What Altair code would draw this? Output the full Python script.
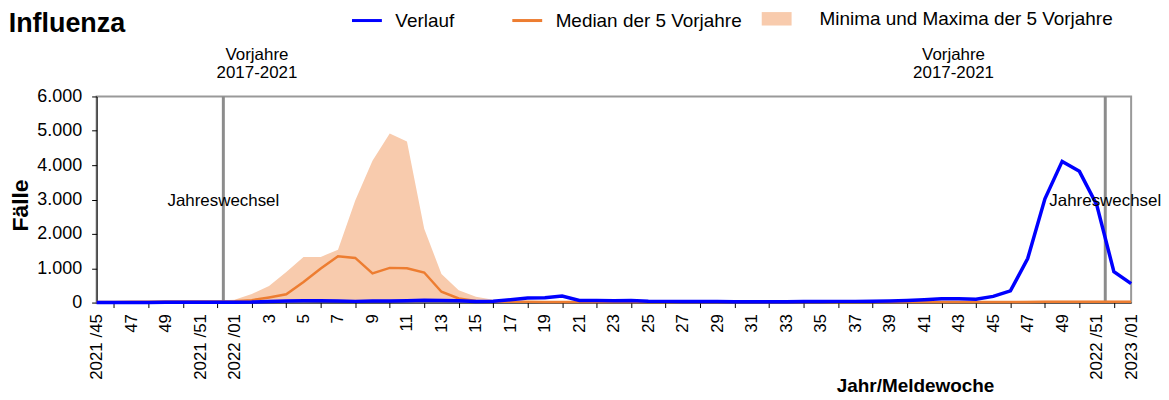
import altair as alt
import pandas as pd

FONT = "Liberation Sans"

# ---- data -------------------------------------------------------------
# 61 report weeks: 2021/45 ... 2021/52, 2022/01 ... 2022/52, 2023/01
week_index = list(range(61))
# labels shown on every second week (index 0, 2, 4, ...)
even_labels = ["2021 /45", "47", "49", "2021 /51", "2022 /01", "3", "5", "7", "9",
               "11", "13", "15", "17", "19", "21", "23", "25", "27", "29", "31",
               "33", "35", "37", "39", "41", "43", "45", "47", "49", "2022 /51",
               "2023 /01"]

verlauf = [3, 4, 5, 5, 6, 7, 8, 10,
           12, 15, 30, 45, 50, 55, 45, 35, 45, 45,
           50, 65, 60, 55, 30, 40, 80, 130, 140, 190,
           60, 60, 55, 60, 40, 35, 30, 30, 30, 25,
           25, 25, 25, 30, 30, 35, 35, 40, 45, 60,
           80, 110, 110, 100, 180, 340, 1280, 3020, 4110, 3820,
           2850, 900, 550]

median = [20, 20, 22, 25, 28, 30, 32, 30,
          40, 70, 150, 240, 600, 990, 1350, 1300, 850, 1010,
          1000, 875, 315, 120, 45, 30, 25, 22, 20, 20,
          18, 18, 16, 16, 15, 15, 14, 14, 14, 13,
          13, 13, 13, 13, 13, 14, 14, 14, 15, 15,
          15, 16, 16, 17, 18, 18, 20, 22, 24, 25,
          25, 24, 22]

maxima = [40, 40, 45, 50, 55, 60, 70, 60,
          80, 250, 480, 890, 1330, 1330, 1540, 2970, 4130, 4920,
          4690, 2150, 830, 360, 170, 80, 50, 45, 40, 40,
          38, 36, 35, 35, 34, 34, 33, 33, 33, 33,
          33, 33, 34, 34, 35, 35, 36, 36, 38, 40,
          40, 42, 42, 44, 46, 48, 50, 52, 54, 55,
          55, 52, 50]

minima = [2, 2, 2, 3, 3, 3, 4, 4,
          5, 6, 8, 10, 12, 14, 15, 15, 14, 13,
          12, 10, 8, 6, 5, 4, 3, 3, 2, 2,
          2, 2, 2, 2, 2, 2, 2, 2, 2, 2,
          2, 2, 2, 2, 2, 2, 2, 2, 2, 2,
          2, 2, 2, 2, 2, 2, 3, 3, 3, 3,
          3, 3, 3]

SER_V = "Verlauf"
SER_M = "Median der 5 Vorjahre"
SER_B = "Minima und Maxima der 5 Vorjahre"
line_names = [SER_V, SER_M]
line_colors = ["#0000FF", "#ED7D31"]
band_names = [SER_B]
band_colors = ["#F8CBAD"]

# annotations (positions in week-index / case units)
title_text = ["Influenza"]
title_at = [-5.1]
title_y = [7880]
jahreswechsel_at = [7.35, 58.5]
jahreswechsel_label = ["Jahreswechsel", "Jahreswechsel"]
jahreswechsel_text_y = [2950, 2950]
vorjahre_at = [9.3, 49.7]
vorjahre_label = ["Vorjahre\n2017-2021", "Vorjahre\n2017-2021"]
vorjahre_text_y = [7200, 7200]

# ---- tables -----------------------------------------------------------
df_band = pd.DataFrame({"i": week_index, "lo": minima, "hi": maxima, "series": SER_B})
df_v = pd.DataFrame({"i": week_index, "v": verlauf, "series": SER_V})
df_m = pd.DataFrame({"i": week_index, "v": median, "series": SER_M})
df_jw = pd.DataFrame({"i": jahreswechsel_at, "v": jahreswechsel_text_y, "t": jahreswechsel_label})
df_vj = pd.DataFrame({"i": vorjahre_at, "v": vorjahre_text_y, "t": vorjahre_label})
df_title = pd.DataFrame({"i": title_at, "v": title_y, "t": title_text})

# ---- axes / scales ----------------------------------------------------
label_array = "[" + ",".join("'" + s + "'" for s in even_labels) + "]"
x_axis = alt.Axis(
    title="Jahr/Meldewoche",
    values=week_index,
    labelExpr=f"datum.value % 2 == 0 ? {label_array}[datum.value / 2] : ''",
    labelAngle=270,
    labelFont=FONT, labelFontSize=17, labelColor="black",
    labelPadding=6, labelOverlap=False, labelBound=False, labelFlush=False,
    tickSize=5, tickColor="black",
    tickOpacity={"condition": {"test": "datum.value % 2 == 1", "value": 1}, "value": 0},
    domainColor="black", domainWidth=1,
    grid=False,
    titleFont=FONT, titleFontSize=19, titleFontWeight="bold", titleColor="black",
    titleX=822, titleY=89, titleAlign="center", titleBaseline="alphabetic",
)
y_axis = alt.Axis(
    title="Fälle",
    values=[0, 1000, 2000, 3000, 4000, 5000, 6000],
    labelExpr="replace(format(datum.value, ',d'), ',', '.')",
    labelFont=FONT, labelFontSize=18, labelColor="black", labelPadding=10,
    tickSize=5, tickColor="black",
    domainColor="black", domainWidth=1,
    grid=False,
    titleFont=FONT, titleFontSize=23, titleFontWeight="bold", titleColor="black",
    titleX=-69, titleY=109, titleAngle=270, titleAlign="center", titleBaseline="alphabetic",
)
x_scale = alt.Scale(domain=[0, 60], nice=False, zero=False)
y_scale = alt.Scale(domain=[0, 6000], nice=False)


def X():
    return alt.X("i:Q", scale=x_scale, axis=x_axis)


def Y(field):
    return alt.Y(f"{field}:Q", scale=y_scale, axis=y_axis)


line_legend = alt.Legend(
    title=None, orient="none", direction="horizontal",
    legendX=255, legendY=-93,
    labelFont=FONT, labelFontSize=19, labelColor="black", labelLimit=400,
    symbolType="stroke", symbolSize=900, symbolStrokeWidth=3,
    labelOffset=12, columnPadding=51,
)
band_legend = alt.Legend(
    title=None, orient="none", direction="horizontal",
    legendX=668, legendY=-93,
    labelFont=FONT, labelFontSize=19, labelColor="black", labelLimit=400,
    symbolType="M-1,-0.45L1,-0.45L1,0.45L-1,0.45Z", symbolSize=900,
    symbolStrokeWidth=0, symbolOpacity=1,
    labelOffset=28,
)
stroke_enc = alt.Stroke("series:N", scale=alt.Scale(domain=line_names, range=line_colors),
                        legend=line_legend)
fill_enc = alt.Fill("series:N", scale=alt.Scale(domain=band_names, range=band_colors),
                    legend=band_legend)

band = alt.Chart(df_band).mark_area(opacity=1, interpolate="linear").encode(
    x=X(), y=Y("lo"), y2="hi:Q", fill=fill_enc
)
rules = alt.Chart(df_jw).mark_rule(color="#8c8c8c", strokeWidth=3).encode(x=X())
line_m = alt.Chart(df_m).mark_line(strokeWidth=2.5).encode(x=X(), y=Y("v"), stroke=stroke_enc)
line_v = alt.Chart(df_v).mark_line(strokeWidth=3.5).encode(x=X(), y=Y("v"), stroke=stroke_enc)
txt_jw = alt.Chart(df_jw).mark_text(font=FONT, fontSize=17, color="black", baseline="middle").encode(
    x=X(), y=Y("v"), text="t:N"
)
txt_vj = alt.Chart(df_vj).mark_text(font=FONT, fontSize=17, color="black", baseline="middle",
                                    lineBreak="\n", lineHeight=18).encode(
    x=X(), y=Y("v"), text="t:N"
)
txt_title = alt.Chart(df_title).mark_text(font=FONT, fontSize=27, fontWeight="bold", color="black",
                                          align="left", baseline="alphabetic").encode(
    x=X(), y=Y("v"), text="t:N"
)

chart = alt.layer(band, rules, line_m, line_v, txt_jw, txt_vj, txt_title).properties(
    width=1039, height=207,
    autosize=alt.AutoSizeParams(type="none"),
    padding={"left": 89, "top": 88, "right": 30, "bottom": 96},
).configure_view(stroke="#999999", strokeWidth=2)

chart.save("out.html", embed_options={"renderer": "svg", "actions": False})
